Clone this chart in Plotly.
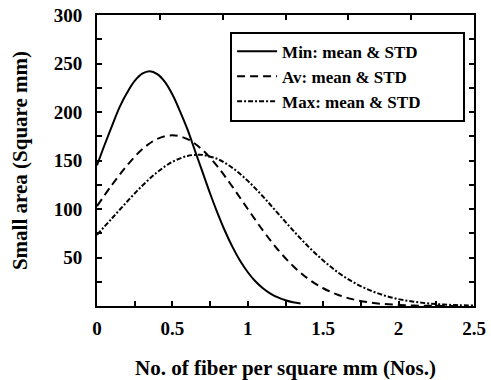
import plotly.graph_objects as go

# Min: mean & STD
x_min = [0, 0.05, 0.1, 0.15, 0.2, 0.25, 0.3, 0.35, 0.4, 0.45, 0.5, 0.55, 0.6, 0.65, 0.7,
         0.75, 0.8, 0.85, 0.9, 0.95, 1.0, 1.05, 1.1, 1.15, 1.2, 1.25, 1.3, 1.35]
y_min = [145, 166, 186, 205, 220, 232, 239.5, 242, 239, 231, 218, 201, 182, 160, 138,
         116, 95.5, 76.8, 60.4, 46.3, 34.8, 25.5, 18.3, 12.8, 8.8, 5.9, 3.8, 2.5]

# Av: mean & STD
x_av = [0, 0.1, 0.2, 0.3, 0.4, 0.5, 0.6, 0.7, 0.8, 0.9, 1.0, 1.1, 1.2, 1.3, 1.4, 1.5,
        1.6, 1.7, 1.8, 1.9, 2.0, 2.1, 2.2, 2.3, 2.4]
y_av = [103, 125, 145, 161.6, 172.3, 176, 172, 160.8, 143.6, 122.5, 100, 77.9, 58.0, 41.3,
        28.1, 18.3, 11.4, 6.8, 3.8, 2.1, 1.1, 0.5, 0.2, 0.1, 0.0]

# Max: mean & STD
x_max = [0, 0.1, 0.2, 0.3, 0.4, 0.5, 0.6, 0.67, 0.7, 0.8, 0.9, 1.0, 1.1, 1.2, 1.3, 1.4,
         1.5, 1.6, 1.7, 1.8, 1.9, 2.0, 2.1, 2.2, 2.3, 2.4, 2.5]
y_max = [73.5, 90.5, 107.7, 124, 138, 148.6, 154.7, 156, 155.8, 151.5, 142.2, 129, 113,
         95.5, 78, 61.5, 46.9, 34.4, 24.5, 16.8, 11.1, 7.1, 4.4, 2.6, 1.5, 0.8, 0.45]

x_ticks = [0, 0.5, 1, 1.5, 2, 2.5]
x_tick_labels = ["0", "0.5", "1", "1.5", "2", "2.5"]
y_ticks = [50, 100, 150, 200, 250, 300]
y_tick_labels = ["50", "100", "150", "200", "250", "300"]
top_ticks = [2.5 / 6 * i for i in range(1, 6)]

FONT = "Liberation Serif"

fig = go.Figure()
fig.add_trace(go.Scatter(x=x_min, y=y_min, mode="lines", name="Min: mean & STD",
                         line=dict(color="black", width=2, shape="spline")))
fig.add_trace(go.Scatter(x=x_av, y=y_av, mode="lines", name="Av: mean & STD",
                         line=dict(color="black", width=2, dash="8px,5px", shape="spline")))
fig.add_trace(go.Scatter(x=x_max, y=y_max, mode="lines", name="Max: mean & STD",
                         line=dict(color="black", width=2, dash="5px,2px,2px,2px", shape="spline")))
# invisible trace on top axis for the top tick marks
fig.add_trace(go.Scatter(x=[0, 2.5], y=[None, None], xaxis="x2", showlegend=False,
                         hoverinfo="skip"))

fig.update_layout(
    width=491, height=380,
    margin=dict(l=97, r=17, t=15, b=74),
    paper_bgcolor="white", plot_bgcolor="white",
    font=dict(family=FONT, color="black", size=19, weight="bold"),
    showlegend=True,
    legend=dict(x=0.353, y=0.943, xanchor="left", yanchor="top",
                orientation="h", entrywidth=176, entrywidthmode="pixels",
                bordercolor="black", borderwidth=2, bgcolor="white",
                font=dict(family=FONT, size=17, weight="bold"),
                tracegroupgap=0, itemwidth=40),
    xaxis=dict(range=[0, 2.5], tickvals=x_ticks, ticktext=x_tick_labels,
               ticks="inside", ticklen=5, tickwidth=2, tickcolor="black",
               showline=True, linecolor="black", linewidth=2, mirror=False,
               showgrid=False, zeroline=False, automargin=False,
               minor=dict(tickvals=[0.25, 0.75, 1.25, 1.75, 2.25], ticks="inside",
                          ticklen=5, tickwidth=2, tickcolor="black"),
               tickfont=dict(size=19), ticklabelstandoff=4,
               title=dict(text="No. of fiber per square mm (Nos.)",
                          font=dict(size=21), standoff=24)),
    xaxis2=dict(range=[0, 2.5], overlaying="x", side="top", tickvals=top_ticks,
                ticks="inside", ticklen=5, tickwidth=2, tickcolor="black",
                showticklabels=False, showline=True, linecolor="black", linewidth=2,
                showgrid=False, zeroline=False, automargin=False),
    yaxis=dict(range=[0, 300], tickvals=y_ticks, ticktext=y_tick_labels,
               ticks="inside", ticklen=5, tickwidth=2, tickcolor="black",
               showline=True, linecolor="black", linewidth=2, mirror="allticks",
               showgrid=False, zeroline=False, automargin=False,
               minor=dict(tickvals=[25, 75, 125, 175, 225, 275], ticks="inside",
                          ticklen=5, tickwidth=2, tickcolor="black"),
               tickfont=dict(size=19), ticklabelstandoff=9,
               title=dict(text="Small area (Square mm)", font=dict(size=21), standoff=20)),
)

fig.write_html("out.html", post_script="document.body.style.margin='0';",
               config={"displayModeBar": False})
